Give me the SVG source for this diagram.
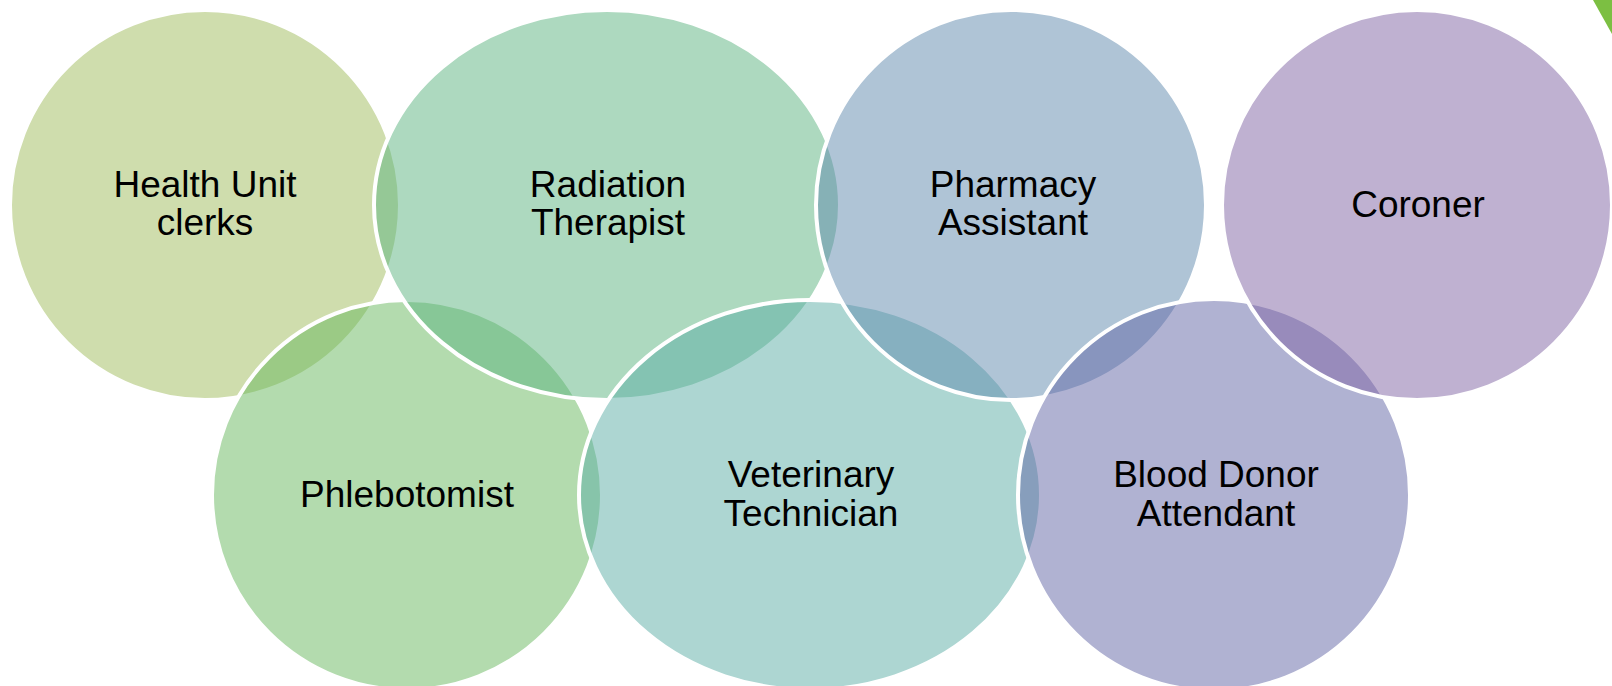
<svg xmlns="http://www.w3.org/2000/svg" width="1612" height="686" viewBox="0 0 1612 686">
<style>
.shape{stroke:#FFFFFF;stroke-width:4;fill-opacity:0.5}
.lbl{font-family:"Liberation Sans",Arial,sans-serif;font-size:37px;fill:#000000;text-anchor:middle}
</style>
<rect x="0" y="0" width="1612" height="686" fill="#FFFFFF"/>
<polygon points="1593,0 1612,0 1612,34" fill="#7CBF42"/>
<g id="node-health-unit-clerks">
<circle class="shape" cx="205" cy="205" r="195" fill="#9FBB5B"/>
<text class="lbl" x="205" y="197">Health Unit</text>
<text class="lbl" x="205" y="235">clerks</text>
</g>
<g id="node-phlebotomist">
<circle class="shape" cx="407" cy="495" r="195" fill="#67B75D"/>
<text class="lbl" x="407" y="507">Phlebotomist</text>
</g>
<g id="node-radiation-therapist">
<ellipse class="shape" cx="607" cy="205" rx="233" ry="195" fill="#5BB37F"/>
<text class="lbl" x="608" y="197">Radiation</text>
<text class="lbl" x="608" y="235">Therapist</text>
</g>
<g id="node-veterinary-technician">
<ellipse class="shape" cx="810" cy="495" rx="231" ry="195" fill="#5BADA5"/>
<text class="lbl" x="811" y="487">Veterinary</text>
<text class="lbl" x="811" y="526">Technician</text>
</g>
<g id="node-pharmacy-assistant">
<circle class="shape" cx="1011" cy="205" r="195" fill="#5F89AD"/>
<text class="lbl" x="1013" y="197">Pharmacy</text>
<text class="lbl" x="1013" y="235">Assistant</text>
</g>
<g id="node-blood-donor-attendant">
<circle class="shape" cx="1214" cy="495" r="196" fill="#6165A5"/>
<text class="lbl" x="1216" y="487">Blood Donor</text>
<text class="lbl" x="1216" y="526">Attendant</text>
</g>
<g id="node-coroner">
<circle class="shape" cx="1417" cy="205" r="195" fill="#7F63A3"/>
<text class="lbl" x="1418" y="217">Coroner</text>
</g>
</svg>
